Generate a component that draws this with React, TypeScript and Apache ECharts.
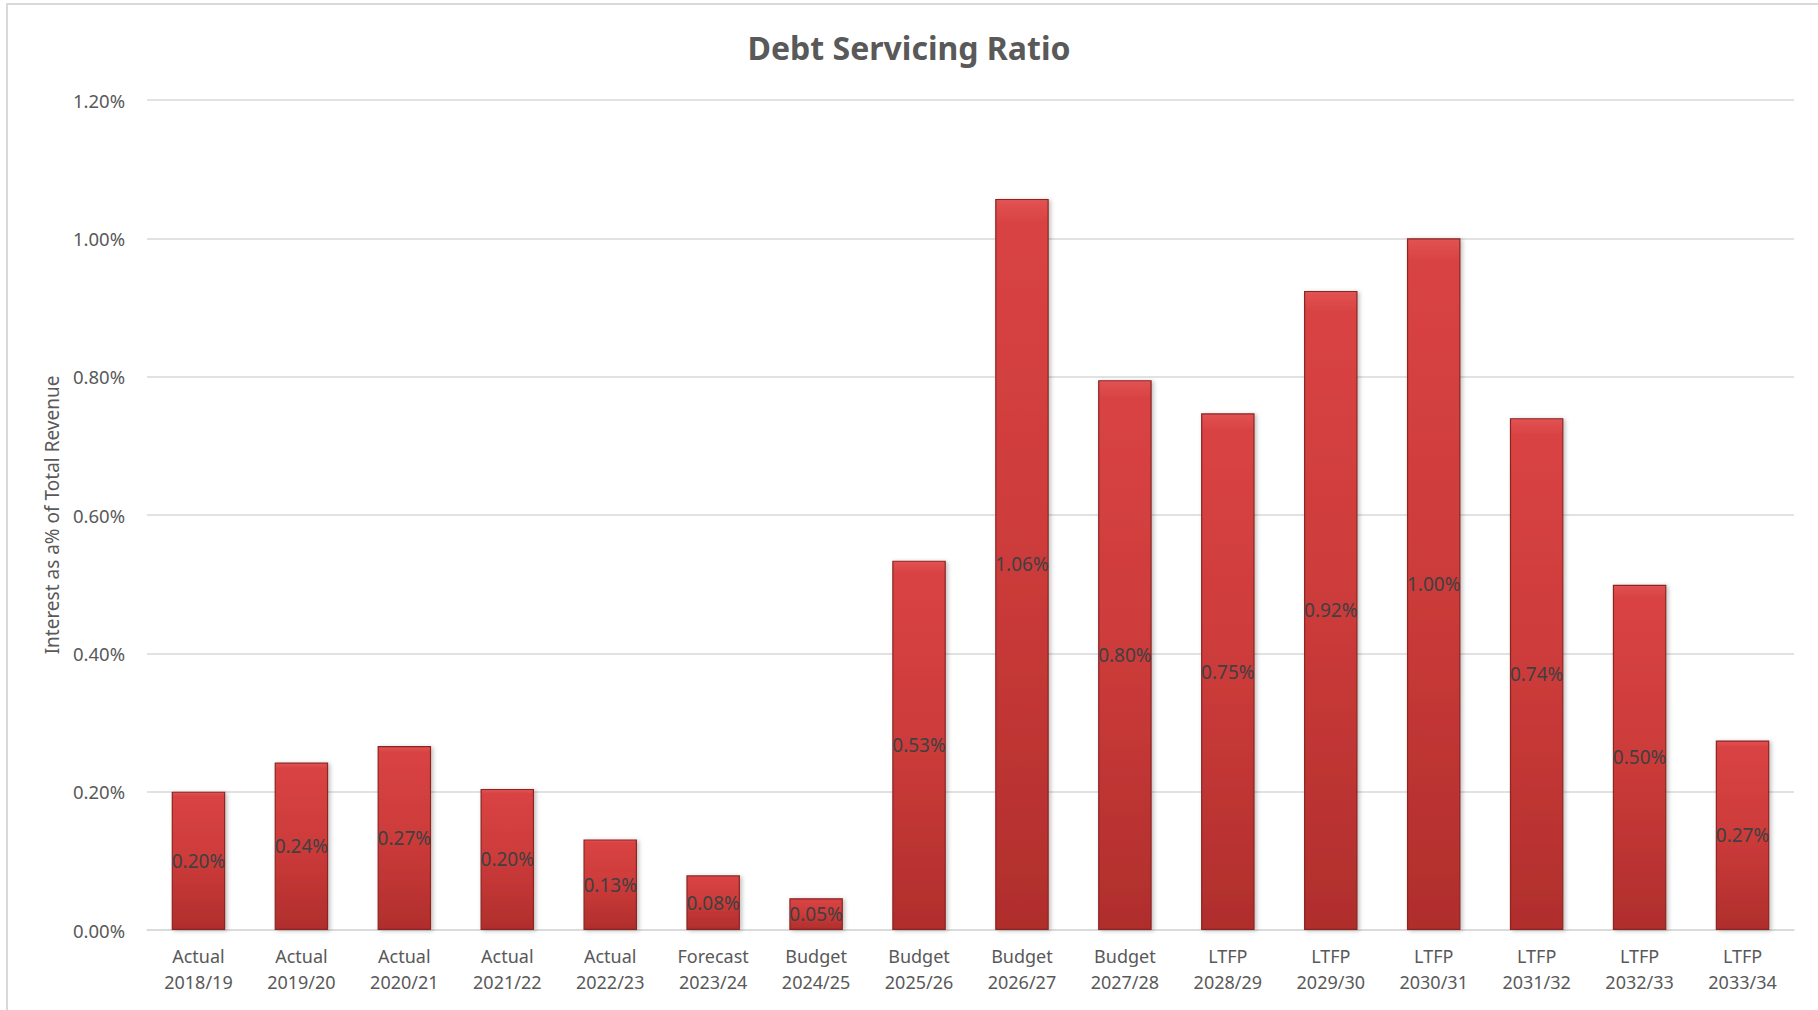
import React, { useEffect, useRef } from "react";
import * as echarts from "echarts";

const categories = [
  "Actual\n2018/19", "Actual\n2019/20", "Actual\n2020/21", "Actual\n2021/22",
  "Actual\n2022/23", "Forecast\n2023/24", "Budget\n2024/25", "Budget\n2025/26",
  "Budget\n2026/27", "Budget\n2027/28", "LTFP\n2028/29", "LTFP\n2029/30",
  "LTFP\n2030/31", "LTFP\n2031/32", "LTFP\n2032/33", "LTFP\n2033/34",
];
const ratioPct = [0.200, 0.242, 0.266, 0.204, 0.131, 0.079, 0.046, 0.534, 1.057, 0.795, 0.747, 0.924, 1.0, 0.740, 0.499, 0.274];
const yTicks = { min: 0, max: 1.2, interval: 0.2 };

const FONT = "Noto Sans";

export default function App() {
  const ref = useRef<HTMLDivElement>(null);
  useEffect(() => {
    if (!ref.current) return;
    const chart = echarts.init(ref.current, undefined, { renderer: "svg" });
    chart.setOption({
      animation: false,
      backgroundColor: "#ffffff",
      textStyle: { fontFamily: FONT },
      title: {
        text: "Debt Servicing Ratio",
        left: "center",
        top: 26,
        textStyle: { fontFamily: FONT, fontSize: 32, fontWeight: "bold", color: "#595959" },
      },
      graphic: [
        {
          type: "rect",
          shape: { x: 7, y: 4, width: 1830, height: 1030 },
          style: { fill: "none", stroke: "#d9d9d9", lineWidth: 2 },
          silent: true,
          z: -1,
        },
      ],
      grid: { left: 147, right: 24, top: 100, bottom: 80, containLabel: false },
      xAxis: {
        type: "category",
        data: categories,
        axisTick: { show: false },
        axisLine: { lineStyle: { color: "#d9d9d9", width: 1.5 } },
        axisLabel: {
          interval: 0,
          color: "#595959",
          fontSize: 18,
          lineHeight: 26,
          margin: 13,
          fontFamily: FONT,
        },
      },
      yAxis: {
        type: "value",
        min: yTicks.min,
        max: yTicks.max,
        interval: yTicks.interval,
        name: "Interest as a% of Total Revenue",
        nameLocation: "middle",
        nameGap: 86,
        nameRotate: 90,
        nameTextStyle: { color: "#595959", fontSize: 19, fontFamily: FONT },
        axisLine: { show: false },
        axisTick: { show: false },
        splitLine: { lineStyle: { color: "#d9d9d9", width: 1.5 } },
        axisLabel: {
          color: "#595959",
          fontSize: 18.5,
          margin: 22,
          fontFamily: FONT,
          formatter: (v: number) => v.toFixed(2) + "%",
        },
      },
      series: [
        {
          type: "bar",
          data: ratioPct,
          barWidth: "52%",
          itemStyle: {
            color: new echarts.graphic.LinearGradient(0, 0, 0, 1, [
              { offset: 0, color: "#e25353" },
              { offset: 0.03, color: "#d94343" },
              { offset: 0.5, color: "#cc3b3a" },
              { offset: 1, color: "#b02e2c" },
            ]),
            borderColor: "#8a2522",
            borderWidth: 1.2,
            shadowColor: "rgba(0,0,0,0.25)",
            shadowBlur: 4,
            shadowOffsetX: 2,
            shadowOffsetY: 1,
          },
          label: {
            show: true,
            position: "inside",
            color: "#404040",
            fontSize: 19,
            fontFamily: FONT,
            formatter: (p: any) => (p.value as number).toFixed(2) + "%",
          },
        },
      ],
    });
    return () => chart.dispose();
  }, []);
  return (
    <div
      ref={ref}
      style={{ position: "fixed", left: 0, top: 0, width: 1818, height: 1010, background: "#fff" }}
    />
  );
}
